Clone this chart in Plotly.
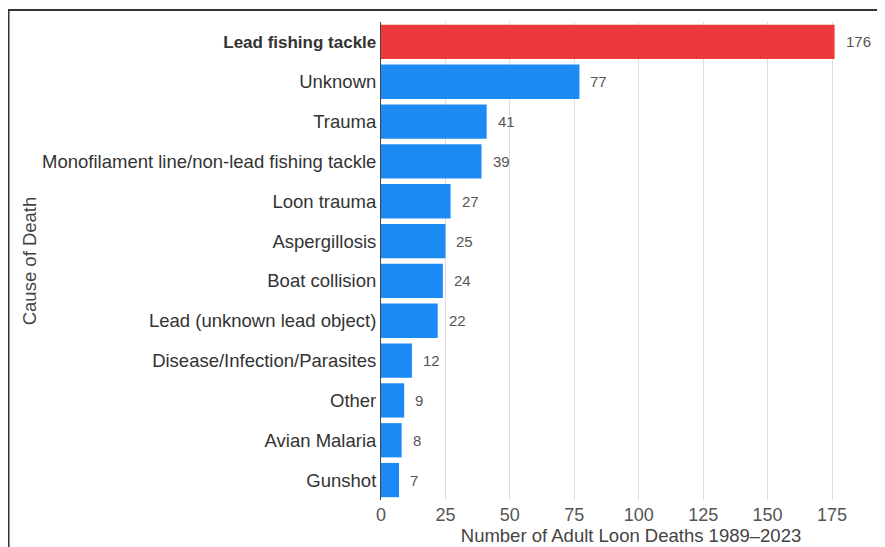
import plotly.graph_objects as go

causes = ["Lead fishing tackle", "Unknown", "Trauma", "Monofilament line/non-lead fishing tackle",
          "Loon trauma", "Aspergillosis", "Boat collision", "Lead (unknown lead object)",
          "Disease/Infection/Parasites", "Other", "Avian Malaria", "Gunshot"]
deaths = [176, 77, 41, 39, 27, 25, 24, 22, 12, 9, 8, 7]
tick_vals = [0, 25, 50, 75, 100, 125, 150, 175]

RED = "#ec393b"
BLUE = "#1c8af4"
colors = [RED] + [BLUE] * (len(causes) - 1)
FONT = "Liberation Sans, Arial, sans-serif"

# page has an 8px body margin, so the figure is sized/positioned in page coords minus 8
W, H = 877, 539
L, R, T, B = 373, 4, 14, 47
PW, PH = W - L - R, H - T - B
XMAX = 194

fig = go.Figure()
fig.add_trace(go.Bar(
    y=causes, x=deaths, orientation="h",
    marker=dict(color=colors, line=dict(width=0)),
    hoverinfo="x+y",
))
for c, v in zip(causes, deaths):
    fig.add_annotation(x=v, y=c, text=str(v), showarrow=False, xanchor="left",
                       xshift=9, font=dict(size=15, color="#555555", family=FONT))

ticktext = ['<b><span style="font-size:17px">' + causes[0] + '</span></b>'] + causes[1:]

fig.update_layout(
    width=W, height=H,
    margin=dict(l=L, r=R, t=T, b=B),
    paper_bgcolor="white", plot_bgcolor="white",
    bargap=0.14,
    showlegend=False,
    font=dict(family=FONT, color="#333333"),
    xaxis=dict(range=[0, XMAX], tickvals=tick_vals, showgrid=True, gridcolor="#dddddd",
               gridwidth=1, zeroline=False, tickfont=dict(size=18, color="#555555"),
               ticklabelstandoff=2,
               title=dict(text="Number of Adult Loon Deaths 1989\u20132023", standoff=0,
                          font=dict(size=18.5, color="#444444")),
               ticks="", ticklen=0, automargin=False),
    yaxis=dict(autorange="reversed", showline=True, linecolor="#444444", linewidth=1,
               tickfont=dict(size=18.5, color="#333333"), ticks="", ticklabelstandoff=0,
               tickvals=causes, ticktext=ticktext,
               title=dict(text="Cause of Death", standoff=0, font=dict(size=18.5, color="#444444"))),
    shapes=[dict(type="rect", xref="paper", yref="paper", x0=(0.5 - L) / PW, x1=2,
                 y0=-1, y1=(PH + T - 2) / PH, line=dict(color="#333333", width=2),
                 fillcolor="rgba(0,0,0,0)")],
)
fig.write_html("out.html")
